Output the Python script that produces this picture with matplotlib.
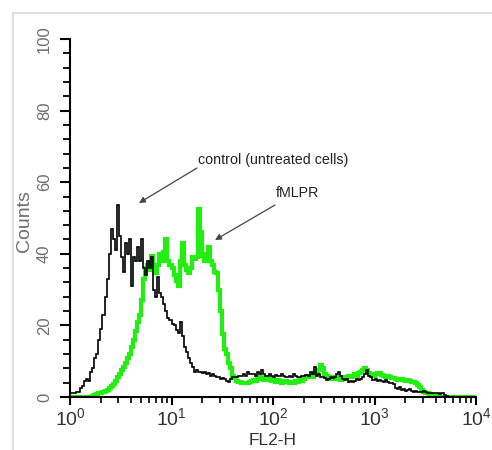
import numpy as np
import matplotlib
matplotlib.use("Agg")
import matplotlib.pyplot as plt
from matplotlib.lines import Line2D
from matplotlib.ticker import FixedLocator, MultipleLocator, LogLocator, NullFormatter

plt.rcParams['font.family'] = ['Liberation Sans', 'DejaVu Sans']
plt.rcParams['mathtext.fontset'] = 'custom'
plt.rcParams['mathtext.rm'] = 'Liberation Sans'
plt.rcParams['mathtext.it'] = 'Liberation Sans:italic'
plt.rcParams['mathtext.bf'] = 'Liberation Sans:bold'

# channel scale: 200 log-spaced channels over 4 decades
log_min, log_max, n_channels = 0.0, 4.0, 200

control_counts = [
    1, 1, 1, 1.5, 1.5, 2.5, 3, 4.5, 5, 4.5,
    7, 8, 11, 12, 16, 19, 23, 28, 33, 40,
    47, 44, 41, 53.5, 45, 39, 35, 43, 40, 44,
    31, 39, 38, 42, 38, 44, 36, 34, 38, 36,
    39, 30, 28, 33.5, 29, 28, 26, 24, 22, 21.5,
    20.5, 20, 18.7, 18, 21, 17, 14, 12.5, 11, 9.5,
    8.5, 7, 7.5, 7, 7, 6.6, 7, 6.5, 6.8, 6,
    6.3, 6, 5.7, 5.5, 5, 5.2, 5, 4.5, 4.3, 5,
    5.5, 5.7, 5.5, 6, 6, 6.5, 5.8, 7, 6.5, 6.3,
    6.5, 6, 7, 6.5, 7.5, 6.5, 6, 6, 6.5, 6,
    5.7, 6.2, 5.8, 6, 6.3, 5.8, 5.5, 5.7, 6, 5.5,
    6.3, 5.8, 5.5, 5.7, 5.8, 6, 6.2, 6, 7, 6.5,
    8.5, 6, 6.5, 5.5, 5.7, 5.2, 4.7, 5, 5.5, 5.3,
    5.7, 6.5, 7, 6, 5, 4.7, 5, 4.3, 4.5, 4.3,
    4.5, 5, 4.7, 5, 5.5, 6.5, 7.5, 6, 5.5, 4.7,
    5, 4.5, 4.7, 4.5, 4.3, 4.7, 4.3, 4, 3.8, 3.5,
    2.5, 2.2, 2.8, 2, 2.2, 1.8, 2, 2.2, 1.8, 1.5,
    1.8, 1.5, 1.3, 1.5, 1.8, 1.4, 1, 1.2, 1, 1.2,
    1, 1.2, 0.8, 1, 0.5, 0.2, 0, 0, 0, 0,
    0, 0, 0, 0, 0, 0, 0, 0, 0, 0,
]

fmlpr_counts = [
    0, 0, 0, 0, 0, 0, 0, 0, 0, 0,
    0, 0.3, 0.5, 0.8, 1, 1.2, 1.5, 1.8, 2, 2.5,
    3, 3.5, 4.5, 5.5, 6.5, 7.5, 8.5, 9.5, 11, 12,
    14, 16, 18.5, 21, 23, 27, 33, 36, 37, 35.5,
    39.5, 37, 34.5, 37, 40, 38, 40.6, 44, 38, 37,
    36, 34, 32.5, 31, 38, 43, 37, 35.5, 34.5, 36,
    39, 38.5, 39, 52.5, 46, 39.5, 38, 40, 42, 38,
    37, 35, 34.5, 30, 24, 17.5, 13.5, 12, 9.5, 8,
    6, 5.2, 4.5, 4.3, 4, 3.8, 4, 3.8, 4.2, 4.5,
    4.7, 4.5, 5, 5.5, 5.2, 4.8, 5, 4.7, 5, 4.5,
    4.7, 4.3, 4.8, 4.5, 3.8, 4.2, 4.5, 4.3, 4, 4.3,
    3.8, 4.5, 4.2, 4.8, 4.5, 5, 5.5, 5.7, 6, 5.5,
    6.6, 7, 7.5, 9, 8, 6.5, 6, 5.5, 5, 5.2,
    5.5, 5, 5.5, 4.7, 5.2, 5.5, 5.7, 6, 5.5, 6,
    6.3, 6, 6.6, 7, 7.5, 8, 7.5, 6.8, 6.5, 6,
    6.3, 6.8, 6.6, 6.2, 6, 5.7, 5.8, 5.5, 5.2, 5.3,
    5, 4.8, 4.7, 5, 4.7, 4.5, 4.7, 4.5, 4.3, 4.2,
    3.8, 3.4, 2.8, 2, 1.5, 1.2, 1, 0.7, 0.5, 0.3,
    0.2, 0, 0, 0, 0, 0, 0, 0, 0, 0,
    0, 0, 0, 0, 0, 0, 0, 0, 0, 0,
]

y_ticks = [0, 20, 40, 60, 80, 100]
x_ticks = [1, 10, 100, 1000, 10000]
x_tick_labels = [r"$\mathregular{10^{0}}$", r"$\mathregular{10^{1}}$",
                 r"$\mathregular{10^{2}}$", r"$\mathregular{10^{3}}$",
                 r"$\mathregular{10^{4}}$"]

edges = 10 ** np.linspace(log_min, log_max, n_channels + 1)

W, H = 492, 450
fig = plt.figure(figsize=(W / 100, H / 100), dpi=100)
ax = fig.add_axes([70 / W, (H - 397) / H, 406 / W, 358 / H])

ax.stairs(fmlpr_counts, edges, color='#22ee11', lw=3.0, zorder=2, baseline=None)
ax.stairs(control_counts, edges, color='black', lw=1.2, zorder=3, baseline=None)

ax.set_xscale('log')
ax.set_xlim(1, 10000)
ax.set_ylim(0, 100)

for s in ['top', 'right']:
    ax.spines[s].set_visible(False)
for s in ['left', 'bottom']:
    ax.spines[s].set_linewidth(1.5)

ax.yaxis.set_major_locator(FixedLocator(y_ticks))
ax.yaxis.set_minor_locator(MultipleLocator(4))
ax.set_yticklabels([str(v) for v in y_ticks], rotation=90, va='center',
                   color='#6f6f6f', fontsize=12)
ax.tick_params(axis='y', which='major', length=7, width=1.5, pad=6, direction='out')
ax.tick_params(axis='y', which='minor', length=5, width=1.3, direction='out')

ax.xaxis.set_major_locator(FixedLocator(x_ticks))
ax.xaxis.set_minor_locator(LogLocator(base=10, subs=np.arange(2, 10)))
ax.xaxis.set_minor_formatter(NullFormatter())
ax.set_xticklabels(x_tick_labels, color='#333333', fontsize=14)
ax.tick_params(axis='x', which='major', length=6, width=1.5, pad=1, direction='out')
ax.tick_params(axis='x', which='minor', length=4, width=1.2, direction='out')

ax.set_xlabel('FL2-H', fontsize=12.5, color='#333333')
ax.xaxis.set_label_coords(0.5, (397 - 433) / 358)
ax.set_ylabel('Counts', fontsize=14, color='#6f6f6f')
ax.yaxis.set_label_coords((33 - 70) / 406, (397 - 221) / 358)

def fx(px):
    return (px - 70) / 406

def fy(py):
    return (397 - py) / 358

arrow = dict(arrowstyle='-|>', color='#444444', lw=0.9, mutation_scale=9,
             shrinkA=0, shrinkB=0)
ax.text(fx(198), fy(160), 'control (untreated cells)', transform=ax.transAxes,
        fontsize=10.3, color='#222222', ha='left', va='center')
ax.annotate('', xy=(fx(139), fy(203)), xytext=(fx(197), fy(168)),
            xycoords='axes fraction', textcoords='axes fraction', arrowprops=arrow)
ax.text(fx(276), fy(193), 'fMLPR', transform=ax.transAxes,
        fontsize=10.3, color='#222222', ha='left', va='center')
ax.annotate('', xy=(fx(215), fy(240)), xytext=(fx(275), fy(205)),
            xycoords='axes fraction', textcoords='axes fraction', arrowprops=arrow)

# light frame of the original panel
fig.add_artist(Line2D([13 / W, 13 / W, 1.0], [0.0, 1 - 13 / H, 1 - 13 / H],
                      transform=fig.transFigure, color='#dcdcdc', lw=1.3))

fig.savefig('out.png', dpi=100)
